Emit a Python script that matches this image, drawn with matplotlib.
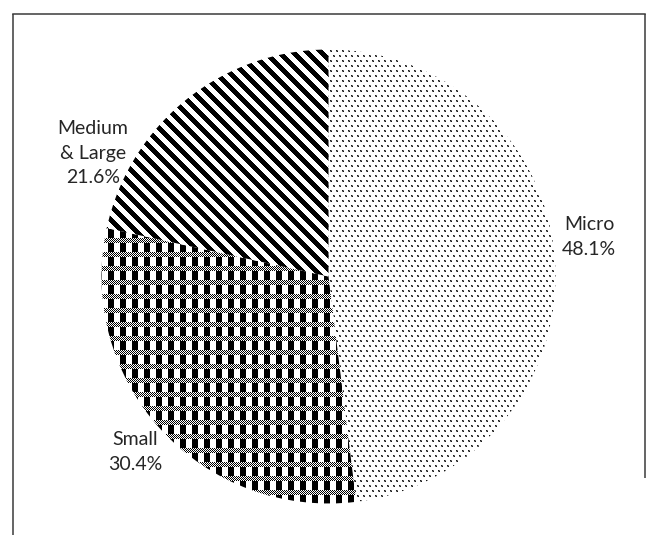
import numpy as np
import matplotlib
matplotlib.use("Agg")
import matplotlib.pyplot as plt

# Share of enterprises by size class
categories = ["Micro", "Small", "Medium\n& Large"]
shares = [48.1, 30.4, 21.6]

W, H = 651, 535
DPI = 100

fig = plt.figure(figsize=(W / DPI, H / DPI), dpi=DPI)
ax = fig.add_axes([0, 0, 1, 1])

cx, cy, R = 328.5, H - 276.5, 227.0
wedges, _ = ax.pie(shares, startangle=90, counterclock=False,
                   center=(cx, cy), radius=R, colors=["white"] * 3,
                   wedgeprops=dict(linewidth=0), normalize=True)
ax.set_xlim(0, W)
ax.set_ylim(0, H)
ax.set_aspect("equal", adjustable="box")
ax.axis("off")

# Fill textures (pixel grids, row 0 at the top)
rr, cc = np.mgrid[0:H, 0:W]

def to_rgba(gray):
    img = np.ones((H, W, 4))
    img[..., 0] = img[..., 1] = img[..., 2] = gray
    return img

# fine staggered dots
shift = 3 * ((rr // 5) % 2)
dots = ((rr % 5) < 2) & (((cc + shift) % 6) < 2)
dots_gray = np.where(dots, np.where(((rr + cc) % 2) == 0, 0.1, 0.45), 1.0)

# checker blocks separated by fine checker bands
band = (rr % 14) < 5
fine = ((rr + cc) % 2) == 0
block = (cc % 12) < 6
check_gray = np.where(np.where(band, fine, block), 0.0, 1.0)

# wide downward diagonal stripes
stripe_gray = np.where(((cc - rr) % 14) < 7, 0.0, 1.0)

textures = [dots_gray, check_gray, stripe_gray]
for wedge, tex in zip(wedges, textures):
    im = ax.imshow(to_rgba(tex), extent=(0, W, 0, H), origin="upper",
                   interpolation="nearest", zorder=3)
    im.set_clip_path(wedge)

# Labels
label_pos = [(589, 237), (135, 452), (93, 153)]
for name, val, (lx, ly) in zip(categories, shares, label_pos):
    ax.text(lx, H - ly, f"{name}\n{val:.1f}%", ha="center", va="center",
            fontsize=14, family="Lato", color="#262626",
            linespacing=1.55, zorder=5)

# Outer frame
fc = "#3a3a3a"
ax.plot([12.5, 12.5], [0, H - 13.5], color=fc, lw=1.1, zorder=6,
        solid_capstyle="butt")
ax.plot([12.5, 644.5], [H - 13.5, H - 13.5], color=fc, lw=1.1, zorder=6,
        solid_capstyle="projecting")
ax.plot([644.5, 644.5], [H - 13.5, H - 478], color=fc, lw=1.1, zorder=6,
        solid_capstyle="butt")

fig.savefig("out.png", dpi=DPI)
